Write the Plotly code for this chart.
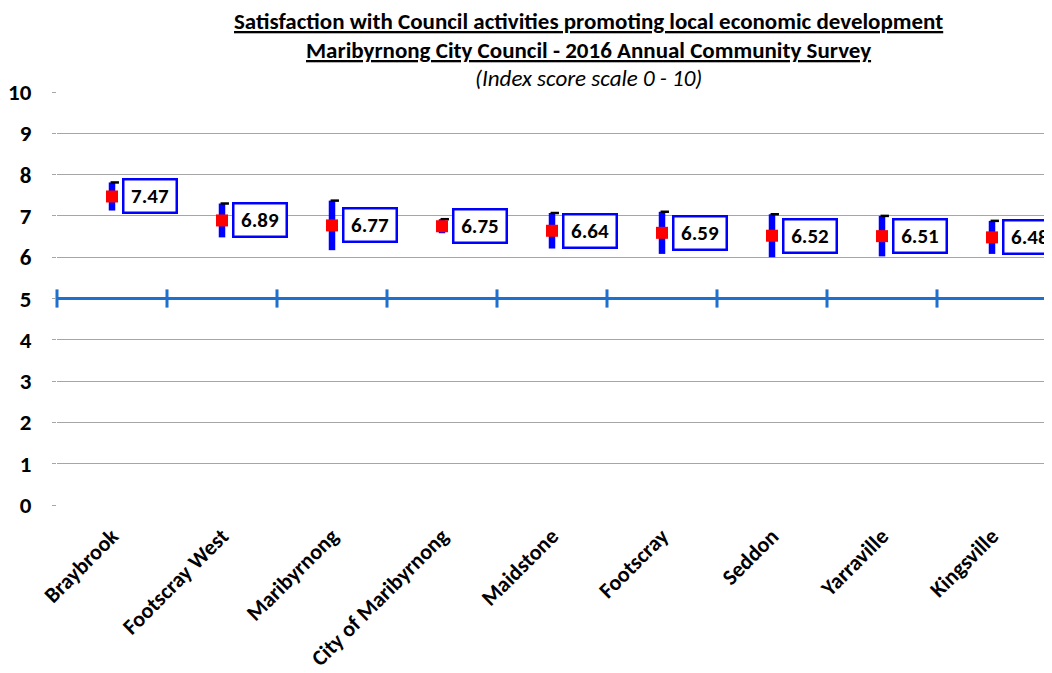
import plotly.graph_objects as go

categories = ["Braybrook", "Footscray West", "Maribyrnong", "City of Maribyrnong",
              "Maidstone", "Footscray", "Seddon", "Yarraville", "Kingsville"]
means = [7.47, 6.89, 6.77, 6.75, 6.64, 6.59, 6.52, 6.51, 6.48]
errors = [0.34, 0.41, 0.60, 0.17, 0.43, 0.51, 0.52, 0.49, 0.40]
threshold = 5
y_ticks = list(range(0, 11))

FONT = "Carlito, Liberation Sans Narrow, Lato, sans-serif"
xs = list(range(len(categories)))
upper = [m + e for m, e in zip(means, errors)]

# the page body has an 8px default margin; plot area on screen: x 57..1047, y 92..505
OFF = 8
scr_left, scr_right, scr_top, scr_bottom = 57, 1047, 92, 505
W, H = 1052, 673

fig = go.Figure()

bounds = [i - 0.5 for i in range(len(categories) + 1)]
fig.add_trace(go.Scatter(
    x=bounds, y=[threshold] * len(bounds), mode="lines+markers",
    line=dict(color="#1F6FCC", width=3),
    marker=dict(symbol="line-ns", size=13, line=dict(color="#1F6FCC", width=3)),
    hoverinfo="skip", showlegend=False, cliponaxis=False))

fig.add_trace(go.Scatter(
    x=xs, y=means, mode="markers",
    marker=dict(size=1, color="rgba(0,0,0,0)"),
    error_y=dict(type="data", array=errors, color="#0000FF", thickness=6.5, width=0),
    showlegend=False, hoverinfo="skip"))

fig.add_trace(go.Scatter(
    x=[x + 0.025 for x in xs], y=upper, mode="markers",
    marker=dict(symbol="line-ew", size=6, line=dict(color="black", width=2.5)),
    showlegend=False, hoverinfo="skip"))

fig.add_trace(go.Scatter(
    x=xs, y=means, mode="markers",
    marker=dict(symbol="square", size=12, color="#FF0000"),
    showlegend=False))

annotations = []
for x, m in zip(xs, means):
    annotations.append(dict(
        x=x, y=m, xref="x", yref="y", xshift=38, text=f"<b>{m:.2f}</b>",
        showarrow=False, font=dict(family=FONT, size=21, color="black"),
        bgcolor="white", bordercolor="#0000FF", borderwidth=2.5,
        width=47, height=27, borderpad=2))

h = scr_bottom - scr_top
def py(ypix):
    return (scr_bottom - ypix) / h

title_x = (588 - scr_left) / (scr_right - scr_left)
annotations += [
    dict(x=title_x, y=py(21), xref="paper", yref="paper", yanchor="middle",
         text="<b><u>Satisfaction with Council activities promoting local economic development</u></b>",
         showarrow=False, font=dict(family=FONT, size=23, color="black")),
    dict(x=title_x, y=py(50), xref="paper", yref="paper", yanchor="middle",
         text="<b><u>Maribyrnong City Council - 2016 Annual Community Survey</u></b>",
         showarrow=False, font=dict(family=FONT, size=23, color="black")),
    dict(x=title_x, y=py(78), xref="paper", yref="paper", yanchor="middle",
         text="<i>(Index score scale 0 - 10)</i>",
         showarrow=False, font=dict(family=FONT, size=23, color="black")),
]

fig.update_layout(
    width=W, height=H,
    margin=dict(l=scr_left - OFF, r=W - (scr_right - OFF), t=scr_top - OFF,
                b=H - (scr_bottom - OFF)),
    paper_bgcolor="white", plot_bgcolor="white",
    font=dict(family=FONT, color="black"),
    annotations=annotations,
    xaxis=dict(range=[-0.5, len(categories) - 0.5], tickmode="array",
               tickvals=xs, ticktext=[f"<b>{c}</b>" for c in categories],
               tickangle=-45, tickfont=dict(size=22), showgrid=False,
               zeroline=False, showline=False, ticks="",
               ticklabelstandoff=13, automargin=False),
    yaxis=dict(range=[0, 10], tickmode="array", tickvals=y_ticks,
               ticktext=[f"<b>{v}</b>" for v in y_ticks],
               tickfont=dict(size=23), showgrid=True, gridcolor="#A6A6A6",
               gridwidth=1, zeroline=False, showline=False,
               ticks="outside", ticklen=4, tickcolor="#A6A6A6",
               ticklabelstandoff=16, automargin=False),
)

fig.write_html("out.html")
